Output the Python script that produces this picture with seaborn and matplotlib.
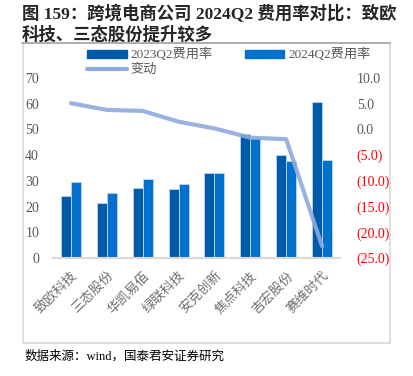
import matplotlib
matplotlib.use("Agg")
import matplotlib.pyplot as plt
import seaborn as sns
import pandas as pd
import numpy as np
from matplotlib.patches import Rectangle, Patch
from matplotlib.lines import Line2D

categories = ["致欧科技", "三态股份", "华凯易佰", "绿联科技", "安克创新", "焦点科技", "吉宏股份", "赛维时代"]
rate_2023 = [24.3, 21.5, 27.3, 26.9, 33.0, 48.3, 39.9, 60.8]
rate_2024 = [29.4, 25.4, 30.8, 28.6, 33.0, 46.6, 37.9, 38.2]
change = [5.1, 3.8, 3.6, 1.5, 0.2, -1.6, -1.9, -22.7]
series_names = ["2023Q2费用率", "2024Q2费用率"]
line_name = "变动"
left_ticks = [0, 10, 20, 30, 40, 50, 60, 70]
right_ticks = [10, 5, 0, -5, -10, -15, -20, -25]

sns.set_theme(style="white")
plt.rcParams["font.family"] = ["Liberation Serif", "Noto Sans CJK SC", "DejaVu Sans"]

W, H = 413, 376
fig = plt.figure(figsize=(W / 100, H / 100), dpi=100)

def fx(px):
    return px / W

def fy(py):
    return 1 - py / H

ax = fig.add_axes([fx(53), fy(258), fx(340) - fx(53), fy(78) - fy(258)])

df = pd.DataFrame({
    "cat": categories * 2,
    "val": rate_2023 + rate_2024,
    "series": [series_names[0]] * len(categories) + [series_names[1]] * len(categories),
})
c23, c24 = "#005AAA", "#0072CE"
sns.barplot(data=df, x="cat", y="val", hue="series", order=categories,
            hue_order=series_names, palette=[c23, c24], width=0.56, gap=0,
            saturation=1, edgecolor="#BDD7EE", linewidth=0.6, legend=False, ax=ax)
ax.set_ylim(0, 70)
ax.set_xlim(-0.5, len(categories) - 0.5)
ax.set_yticks(left_ticks)
ax.set_yticklabels([str(t) for t in left_ticks])
ax.set_xlabel("")
ax.set_ylabel("")
for s in ["top", "right", "left"]:
    ax.spines[s].set_visible(False)
ax.spines["bottom"].set_color("#D9D9D9")
ax.spines["bottom"].set_linewidth(1.5)
ax.tick_params(axis="y", length=0, pad=10, labelsize=10, labelcolor="#595959")
ax.tick_params(axis="x", length=0, pad=8)
ax.set_xticks(range(len(categories)))
ax.set_xticklabels(categories, rotation=45, ha="right", va="top",
                   rotation_mode="anchor", fontsize=9.5, color="#6E6E6E",
                   family=["Noto Sans CJK SC"])

ax2 = ax.twinx()
sns.lineplot(x=np.arange(len(categories)), y=change, ax=ax2, color="#8FAADC",
             linewidth=3.0, alpha=0.9, legend=False)
ax2.set_ylim(-25, 10)
ax2.set_yticks(right_ticks)
ax2.set_yticklabels([f"({abs(t):.1f})" if t < 0 else f"{t:.1f}" for t in right_ticks])
for lab, t in zip(ax2.get_yticklabels(), right_ticks):
    lab.set_color("#FF0000" if t < 0 else "#595959")
ax2.tick_params(axis="y", length=0, pad=12, labelsize=10)
for s in ["top", "right", "left", "bottom"]:
    ax2.spines[s].set_visible(False)
ax2.set_ylabel("")

handles = [Patch(facecolor=c23, edgecolor=c23),
           Line2D([0], [0], color="#8FAADC", linewidth=3.0),
           Patch(facecolor=c24, edgecolor=c24)]
labels = [series_names[0], line_name, series_names[1]]
fig.legend(handles, labels, ncol=2, loc="upper left",
           bbox_to_anchor=(fx(82), fy(43)), frameon=False,
           prop={"family": ["Liberation Serif", "Noto Sans CJK SC"], "size": 9.5},
           labelcolor="#595959", handlelength=3.0, handleheight=0.6,
           columnspacing=2.4, labelspacing=0.15, handletextpad=0.3,
           borderaxespad=0)

# frame around chart
fig.patches.append(Rectangle((fx(23), fy(343)), fx(390) - fx(23), fy(43) - fy(343),
                             transform=fig.transFigure, fill=False,
                             edgecolor="#D9D9D9", linewidth=1.2))
fig.lines.append(Line2D([fx(22), fx(390)], [fy(43), fy(43)], transform=fig.transFigure,
                        color="#A6A6A6", linewidth=1.2))

title_font = ["Liberation Serif", "Noto Sans CJK SC"]
fig.text(fx(22), fy(14), "图 159：跨境电商公司 2024Q2 费用率对比：致欧",
         fontsize=12.5, fontweight="bold", va="center", ha="left", family=title_font)
fig.text(fx(22), fy(35), "科技、三态股份提升较多",
         fontsize=12.5, fontweight="bold", va="center", ha="left", family=title_font)
fig.text(fx(25), fy(356), "数据来源：wind，国泰君安证券研究",
         fontsize=9, va="center", ha="left", family=title_font, color="#000000")

fig.savefig("out.png", dpi=100)
